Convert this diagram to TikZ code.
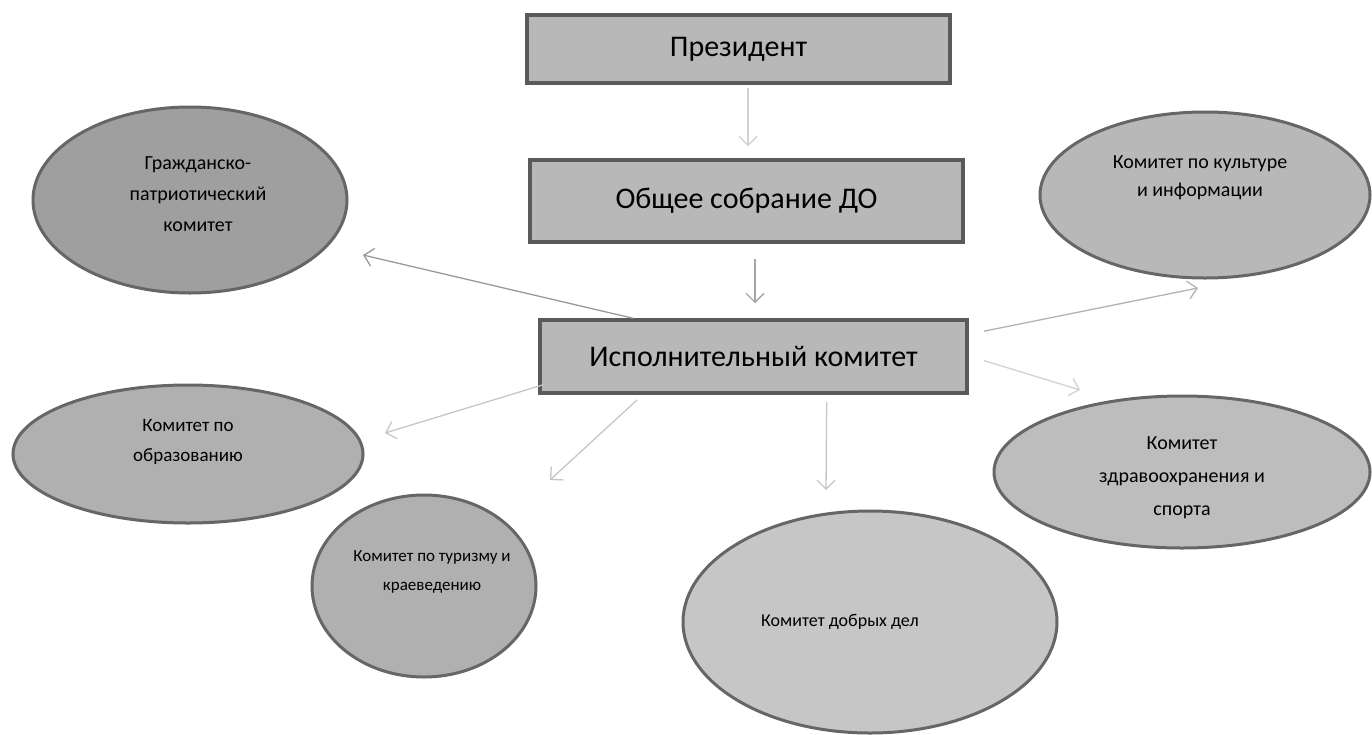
\documentclass[tikz,border=0pt]{standalone}
\usepackage{fontspec}
\setmainfont{Carlito}
\usetikzlibrary{shapes.geometric,arrows.meta,calc}
\definecolor{boxfill}{HTML}{B8B8B8}
\definecolor{boxline}{HTML}{5A5A5A}
\definecolor{ellline}{HTML}{666666}
\tikzset{
  rectbox/.style={draw=boxline, line width=3.5pt, fill=boxfill, minimum width=#1, inner sep=0pt, font=\fontsize{30}{34}\selectfont},
  ell/.style={ellipse, draw=ellline, line width=3pt, inner sep=0pt},
  etext/.style={align=center, inner sep=0pt},
  conn/.style={line width=1.3pt, -{Straight Barb[length=9pt,width=18pt,line width=1.3pt]}},
}
\begin{document}
\begin{tikzpicture}[x=1pt,y=-1pt]
\useasboundingbox (0,0) rectangle (1372,734);
% boxes
\node[rectbox=423pt, minimum height=68pt] (pres) at (738.5,49) {Президент};
\node[rectbox=433pt, minimum height=82pt] (obsh) at (746.5,201) {Общее собрание ДО};
\node[rectbox=427pt, minimum height=73pt] (isp) at (753.5,356.5) {Исполнительный комитет};
% ellipses
\node[ell, fill=gray!75, minimum width=314pt, minimum height=186pt] (grazh) at (190,200) {};
\node[etext, font=\fontsize{20}{31}\selectfont] (grazhT) at ($(grazh.center)+(8,-6)$) {Гражданско-\\патриотический\\комитет};
\node[ell, fill=gray!62, minimum width=350pt, minimum height=138pt] (obraz) at (188,454) {};
\node[etext, font=\fontsize{19}{30}\selectfont] (obrazT) at ($(obraz.center)+(0,-12)$) {Комитет по\\образованию};
\node[ell, fill=gray!62, minimum width=224pt, minimum height=182pt] (turizm) at (424,586) {};
\node[etext, font=\fontsize{17}{29}\selectfont] (turizmT) at ($(turizm.center)+(8,-14)$) {Комитет по туризму и\\краеведению};
\node[ell, fill=gray!45, minimum width=374pt, minimum height=222pt] (dobr) at (870,622) {};
\node[etext, font=\fontsize{18}{29}\selectfont] (dobrT) at ($(dobr.center)+(-30,0)$) {Комитет добрых дел};
\node[ell, fill=gray!52, minimum width=376pt, minimum height=152pt] (zdrav) at (1182,472) {};
\node[etext, font=\fontsize{20}{33}\selectfont] (zdravT) at ($(zdrav.center)+(0,6)$) {Комитет\\здравоохранения и\\спорта};
\node[ell, fill=gray!56, minimum width=330pt, minimum height=166pt] (kult) at (1205,195) {};
\node[etext, font=\fontsize{20}{28}\selectfont] (kultT) at ($(kult.center)+(-5,-17)$) {Комитет по культуре\\и информации};
% free arrow ends
\coordinate (tGrazh) at (363,255);
\coordinate (tObraz) at (385,433);
\coordinate (tTurizm) at (550,480);
\coordinate (tDobr) at (826,490);
\coordinate (tKult) at (1198,288);
\coordinate (tZdrav) at (1080,390);
% connectors
\draw[conn, draw=gray!35] ($(pres.south -| 748,0)+(0,3)$) -- ($(obsh.north -| 748,0)+(0,-12)$);
\draw[conn, draw=gray!70] ($(obsh.south -| 755,0)+(0,15)$) -- ($(isp.north -| 755,0)+(0,-15)$);
\draw[conn, draw=gray!80] ($(isp.north west)!0.22!(isp.north east)$) -- (tGrazh);
\draw[conn, draw=gray!45] ($(isp.south west)+(5,-10)$) -- (tObraz);
\draw[conn, draw=gray!45] ($(isp.south west)!0.23!(isp.south east)+(0,5)$) -- (tTurizm);
\draw[conn, draw=gray!45] ($(isp.south west)!0.67!(isp.south east)+(0,7)$) -- (tDobr);
\draw[conn, draw=gray!60] ($(isp.north east)+(15,13)$) -- (tKult);
\draw[conn, draw=gray!35] ($(isp.east)+(15,4)$) -- (tZdrav);
\end{tikzpicture}
\end{document}
